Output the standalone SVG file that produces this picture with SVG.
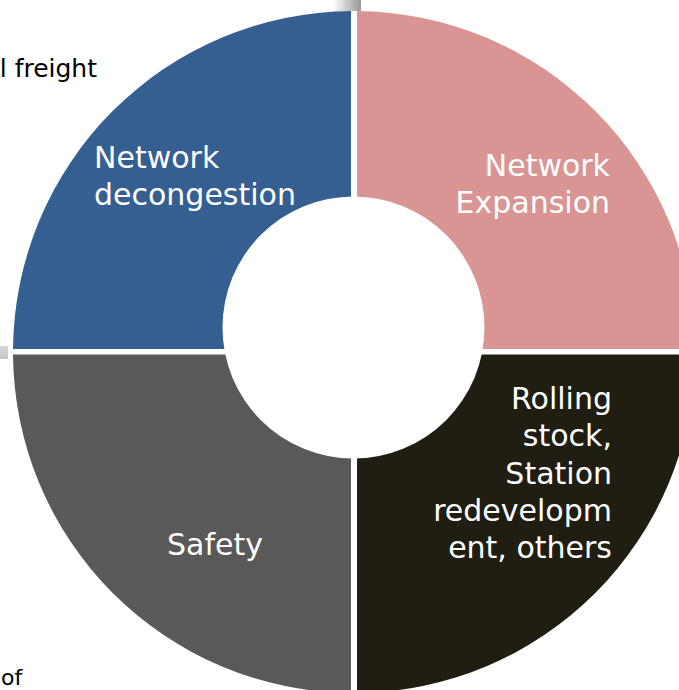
<svg xmlns="http://www.w3.org/2000/svg" width="679" height="690" viewBox="0 0 679 690">
  <style>
    .lbl { font-family: "DejaVu Sans", "Liberation Sans", sans-serif; font-size: 30px; fill: #ffffff; }
    .side { font-family: "DejaVu Sans", "Liberation Sans", sans-serif; fill: #000000; }
  </style>
  <defs>
    <linearGradient id="tabTop" x1="0" y1="0" x2="1" y2="0">
      <stop offset="0" stop-color="#ffffff"/>
      <stop offset="1" stop-color="#969696"/>
    </linearGradient>
    <linearGradient id="tabLeft" x1="0" y1="0" x2="0" y2="1">
      <stop offset="0" stop-color="#d8d8d8"/>
      <stop offset="1" stop-color="#c4c4c4"/>
    </linearGradient>
  </defs>
  <rect width="679" height="690" fill="#ffffff"/>
  <rect x="333" y="0" width="28" height="11" fill="url(#tabTop)"/>
  <rect x="0" y="346" width="8" height="13" fill="url(#tabLeft)"/>
  <text class="side" x="97" y="77" font-size="25" text-anchor="end">l freight</text>
  <text class="side" x="1" y="685" font-size="22">of</text>
  <g id="network-decongestion">
    <path d="M351,349 L351,11 A341,341 0 0 0 13,349 Z" fill="#365F91"/>
  </g>
  <g id="network-expansion">
    <path d="M357,349 L357,11 A341,341 0 0 1 695,349 Z" fill="#D99594"/>
  </g>
  <g id="rolling-stock">
    <path d="M357,354.5 L695,354.5 A341,341 0 0 1 357,693 Z" fill="#201E13"/>
  </g>
  <g id="safety">
    <path d="M351,354.5 L351,693 A341,341 0 0 1 13,354.5 Z" fill="#595959"/>
  </g>
  <circle cx="353.5" cy="327.5" r="131" fill="#ffffff"/>
  <g id="labels">
    <text class="lbl" x="94" y="168">Network</text>
    <text class="lbl" x="94" y="205">decongestion</text>
    <text class="lbl" x="610" y="176" text-anchor="end">Network</text>
    <text class="lbl" x="610" y="213" text-anchor="end">Expansion</text>
    <text class="lbl" x="612" y="409" text-anchor="end">Rolling</text>
    <text class="lbl" x="612" y="446" text-anchor="end">stock,</text>
    <text class="lbl" x="612" y="484" text-anchor="end">Station</text>
    <text class="lbl" x="612" y="521" text-anchor="end">redevelopm</text>
    <text class="lbl" x="612" y="558" text-anchor="end">ent, others</text>
    <text class="lbl" x="215" y="555" text-anchor="middle">Safety</text>
  </g>
  <g id="connectors"/>
</svg>
